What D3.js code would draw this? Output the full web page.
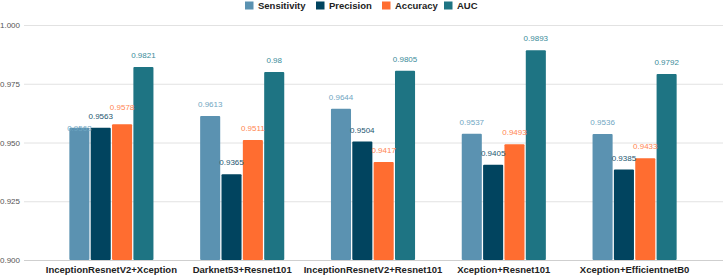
<!DOCTYPE html>
<html>
<head>
<meta charset="utf-8">
<script src="https://cdn.jsdelivr.net/npm/d3@7"></script>
<style>
    body { margin: 0; background: #fff; }
    svg { display: block; font-family: "Liberation Sans", Arial, sans-serif; }
</style>
</head>
<body>
<svg id="chart" width="723" height="276"></svg>
<script>
const MODELS = ["InceptionResnetV2+Xception", "Darknet53+Resnet101", "InceptionResnetV2+Resnet101", "Xception+Resnet101", "Xception+EfficientnetB0"]
const METRICS = ["Sensitivity", "Precision", "Accuracy", "AUC"]
const SENSITIVITY = [0.9563, 0.9613, 0.9644, 0.9537, 0.9536]
const PRECISION = [0.9563, 0.9365, 0.9504, 0.9405, 0.9385]
const ACCURACY = [0.9578, 0.9511, 0.9417, 0.9493, 0.9433]
const AUC = [0.9821, 0.98, 0.9805, 0.9893, 0.9792]
const Y_TICKS = [0.9, 0.925, 0.95, 0.975, 1.0]

const BAR_COLORS = ["#5b92b1", "#01445f", "#ff6d30", "#1e7483"]
const LABEL_COLORS = ["#6fa6c2", "#1d5670", "#ff8651", "#3b8c9a"]

let series = [SENSITIVITY, PRECISION, ACCURACY, AUC],
    rows = MODELS.map((model, i) => ({model, values: METRICS.map((metric, j) => ({metric, index: j, value: series[j][i]}))})),
    svg = d3.select("#chart"),
    x0 = d3.scaleBand()
        .domain(MODELS)
        .range([46, 700])
        .paddingInner(0.357)
        .paddingOuter(0.1785),
    x1 = d3.scaleBand()
        .domain(METRICS)
        .range([0, x0.bandwidth()])
        .paddingInner(0.06),
    y = d3.scaleLinear()
        .domain([0.9, 1.0])
        .range([260, 25]),
    color = d3.scaleOrdinal().domain(METRICS).range(BAR_COLORS),
    labelColor = d3.scaleOrdinal().domain(METRICS).range(LABEL_COLORS)

// grid + y labels
let yAxis = svg.append("g")
    .attr("transform", "translate(24, 0)")
    .call(d3.axisLeft(y).tickValues(Y_TICKS).tickFormat(d3.format(".3f")).tickSize(-699).tickPadding(4))

yAxis.select(".domain").remove()
yAxis.selectAll(".tick line")
    .attr("stroke", d => d === 0.9 ? "#cfcfcf" : "#e2e2e2")
yAxis.selectAll(".tick text")
    .attr("fill", "#555")
    .style("font-size", "8px")
    .style("font-family", "'Liberation Sans', Arial, sans-serif")

// bars
let groups = svg.append("g")
    .selectAll("g")
    .data(rows)
    .join("g")
    .attr("transform", d => `translate(${x0(d.model)}, 0)`)

groups.selectAll("rect")
    .data(d => d.values)
    .join("rect")
    .attr("x", d => x1(d.metric))
    .attr("y", d => y(d.value))
    .attr("width", x1.bandwidth())
    .attr("height", d => y(0.9) - y(d.value))
    .attr("rx", 1)
    .attr("fill", d => color(d.metric))

// value labels, with a small pass to push apart neighbours that collide
groups.each(function(row) {
    let labels = row.values.map(d => ({...d, ly: y(d.value) - 9}))

    for (let i = 0; i < labels.length - 1; i++) {
        let a = labels[i], b = labels[i + 1]
        if (Math.abs(a.ly - b.ly) < 9) {
            if (b.ly < a.ly) b.ly = a.ly - 9
            else a.ly = b.ly + 12.5
        }
    }

    d3.select(this).selectAll("text")
        .data(labels)
        .join("text")
        .attr("x", d => x1(d.metric) + x1.bandwidth() / 2)
        .attr("y", d => d.ly)
        .attr("text-anchor", "middle")
        .attr("fill", d => labelColor(d.metric))
        .style("font-size", "8px")
        .text(d => d.value)
})

// category labels
svg.append("g")
    .selectAll("text")
    .data(MODELS)
    .join("text")
    .attr("x", d => x0(d) + x0.bandwidth() / 2)
    .attr("y", 273)
    .attr("text-anchor", "middle")
    .attr("fill", "#222")
    .style("font-size", "9.5px")
    .style("font-weight", "bold")
    .text(d => d)

// legend
let legendX = [245, 316, 382, 444],
    legend = svg.append("g")
        .selectAll("g")
        .data(METRICS)
        .join("g")
        .attr("transform", (d, i) => `translate(${legendX[i]}, 0)`)

legend.append("rect")
    .attr("y", 1.5)
    .attr("width", 8.5)
    .attr("height", 8)
    .attr("fill", d => color(d))

legend.append("text")
    .attr("x", 13)
    .attr("y", 9)
    .attr("fill", "#222")
    .style("font-size", "9.5px")
    .style("font-weight", "bold")
    .text(d => d)
</script>
</body>
</html>
